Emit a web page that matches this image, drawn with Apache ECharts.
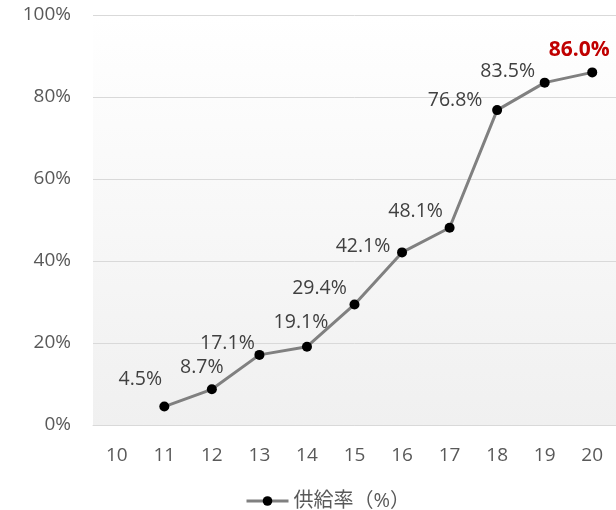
<!DOCTYPE html>
<html><head><meta charset="utf-8">
<script src="https://cdn.jsdelivr.net/npm/echarts@6/dist/echarts.min.js"></script>
<style>html,body{margin:0;padding:0;background:#fff}#c{width:616px;height:510px}</style>
</head><body><div id="c"></div>
<script>
const categories = ['10','11','12','13','14','15','16','17','18','19','20'];
const supplyRate = [null, 4.5, 8.7, 17.1, 19.1, 29.4, 42.1, 48.1, 76.8, 83.5, 86.0];
const yTicks = [0, 20, 40, 60, 80, 100];
const seriesName = '供給率（%）';
const labelOffsets = [null, [-24,-27], [-10,-22], [-32,-11], [-6,-24], [-35,-16], [-39,-6], [-34,-16], [-42,-10], [-37,-11], [-13,-22]];
const highlightIndex = 10;

const font = '"Open Sans", "Noto Sans CJK JP", sans-serif';
const chart = echarts.init(document.getElementById('c'), null, {renderer:'canvas'});
const data = supplyRate.map((v, i) => {
  if (v === null) return null;
  const hl = i === highlightIndex;
  return {
    value: v,
    label: {
      show: true, position: 'inside', offset: labelOffsets[i],
      formatter: v.toFixed(1) + '%',
      color: hl ? '#C00000' : '#404040',
      fontWeight: hl ? 'bold' : 'normal',
      fontSize: hl ? 21 : 19.5,
      fontFamily: font
    }
  };
});
chart.setOption({
  animation: false,
  grid: {left: 93, right: -5, top: 15, bottom: 85, containLabel: false, show: true, borderWidth: 0,
    backgroundColor: new echarts.graphic.LinearGradient(0,0,0,1,[{offset:0,color:'#ffffff'},{offset:1,color:'#f0f0f0'}])},
  legend: {
    data: [seriesName], left: 240, top: 486, itemWidth: 42, itemHeight: 12, itemGap: 3,
    lineStyle: {width: 3, color: '#808080'},
    textStyle: {color: '#595959', fontSize: 20, fontFamily: font}
  },
  xAxis: {
    type: 'category', data: categories, boundaryGap: true,
    axisLine: {show: true, lineStyle: {color: '#d9d9d9', width: 1}},
    axisTick: {show: false},
    axisLabel: {color: '#595959', fontSize: 19, fontFamily: font, margin: 21}
  },
  yAxis: {
    type: 'value', min: yTicks[0], max: yTicks[yTicks.length-1], interval: 20,
    axisLine: {show: false}, axisTick: {show: false},
    splitLine: {lineStyle: {color: '#d9d9d9', width: 1}},
    axisLabel: {color: '#595959', fontSize: 19, fontFamily: font, margin: 22, formatter: '{value}%'}
  },
  series: [{
    name: seriesName, type: 'line', data: data, connectNulls: false,
    symbol: 'circle', symbolSize: 10,
    itemStyle: {color: '#000000'},
    lineStyle: {color: '#808080', width: 3}
  }]
});
</script></body></html>
